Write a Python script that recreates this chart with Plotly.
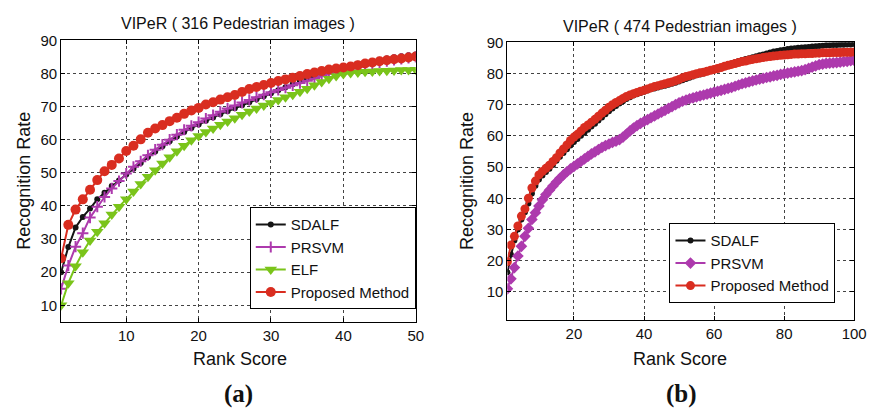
import plotly.graph_objects as go

# ---------- data: panel (a) ----------
rank_a = list(range(1, 51))
sdalf_a = [20, 27.6, 33.5, 36.7, 39.2, 42, 44, 46, 47.7, 49.5,
           51.2, 53, 54.8, 56.4, 58, 59.5, 61, 62.3, 63.5, 64.6,
           65.7, 66.7, 67.7, 68.6, 69.5, 70.4, 71.3, 72.2, 73.1, 74,
           74.9, 75.8, 76.7, 77.6, 78.5, 79.3, 80.1, 80.8, 81.4, 81.9,
           82.4, 82.9, 83.3, 83.7, 84.1, 84.5, 84.9, 85.2, 85.5, 85.7]
prsvm_a = [15, 22, 27.7, 31.8, 36.5, 39.8, 42.7, 45.3, 47.5, 49.8,
           51.8, 53.5, 55.3, 57, 58.5, 60, 61.5, 63, 64.2, 65.3,
           66.4, 67.4, 68.4, 69.4, 70.3, 71.2, 72, 72.8, 73.6, 74.3,
           75, 75.7, 76.4, 77.1, 77.8, 78.5, 79.2, 79.9, 80.5, 81,
           81.5, 82, 82.5, 82.9, 83.3, 83.7, 84.1, 84.4, 84.7, 85]
elf_a = [10, 16.7, 21.8, 26, 29.6, 32.2, 34.8, 37.4, 39.8, 42,
         44.4, 46.6, 48.8, 50.8, 52.8, 54.7, 56.5, 58.2, 59.8, 61.1,
         62.3, 63.4, 64.5, 65.5, 66.5, 67.5, 68.5, 69.4, 70.3, 71.1,
         72, 72.8, 73.6, 74.5, 75.4, 76.4, 77.4, 78.4, 79.2, 79.8,
         80.1, 80.3, 80.5, 80.6, 80.7, 80.8, 80.9, 81, 81, 81.1]
prop_a = [24.2, 34.3, 38.9, 42, 44.9, 47.8, 50.5, 52.4, 54.3, 56.6,
          58.2, 60.1, 62.1, 63.4, 64.4, 65.6, 66.6, 67.8, 68.8, 69.6,
          70.6, 71.3, 72.1, 72.8, 73.5, 74.4, 75.3, 75.9, 76.5, 77.1,
          77.7, 78.2, 78.7, 79.2, 79.8, 80.3, 80.7, 81.2, 81.5, 81.8,
          82.1, 82.5, 83.0, 83.3, 83.7, 84.0, 84.3, 84.5, 84.8, 85.1]

# ---------- data: panel (b) ----------
rank_b = list(range(1, 101))
sdalf_b = [16.3, 22, 26.5, 30, 33.2, 35.5, 38.3, 41.5, 44, 46,
           47.3, 48.4, 49.5, 50.7, 52, 53.3, 54.5, 55.7, 56.9, 58,
           59, 60, 61, 62, 63, 63.9, 64.9, 65.9, 66.9, 67.9,
           68.8, 69.6, 70.4, 71.1, 71.8, 72.4, 72.9, 73.3, 73.7, 74.1,
           74.5, 74.9, 75.2, 75.5, 75.8, 76.1, 76.4, 76.7, 77, 77.4,
           77.8, 78.2, 78.6, 79, 79.4, 79.7, 80, 80.4, 80.8, 81.2,
           81.6, 82, 82.4, 82.8, 83.2, 83.6, 84, 84.3, 84.6, 84.9,
           85.2, 85.5, 85.8, 86.1, 86.4, 86.7, 87, 87.2, 87.4, 87.6,
           87.8, 88, 88.1, 88.2, 88.3, 88.4, 88.5, 88.6, 88.7, 88.8,
           88.9, 89, 89, 89.1, 89.1, 89.2, 89.2, 89.3, 89.3, 89.4]
prsvm_b = [11, 14.2, 17.8, 21.5, 24.6, 27.8, 30.4, 33.2, 35.4, 37.5,
           39.5, 41.2, 42.6, 43.9, 45.2, 46.4, 47.5, 48.5, 49.4, 50.2,
           51, 51.8, 52.6, 53.4, 54.2, 54.9, 55.6, 56.3, 56.9, 57.4,
           57.9, 58.3, 58.8, 59.6, 60.6, 61.6, 62.5, 63.3, 64, 64.6,
           65.2, 65.8, 66.4, 67, 67.6, 68.2, 68.8, 69.4, 70, 70.6,
           71.1, 71.5, 71.9, 72.2, 72.5, 72.8, 73.1, 73.4, 73.7, 74,
           74.3, 74.6, 74.9, 75.2, 75.5, 75.9, 76.3, 76.7, 77, 77.3,
           77.6, 77.9, 78.2, 78.4, 78.7, 78.9, 79.2, 79.4, 79.7, 79.9,
           80.1, 80.3, 80.5, 80.7, 80.9, 81.2, 81.6, 82, 82.4, 82.8,
           83, 83.2, 83.3, 83.4, 83.5, 83.6, 83.8, 83.9, 84.1, 84.2]
prop_b = [19.7, 25, 27.8, 31.1, 34.3, 36.6, 40, 43.3, 45.5, 47.5,
          48.6, 49.6, 50.6, 51.8, 53, 54.5, 55.8, 57.1, 58.5, 59.6,
          60.5, 61.6, 62.7, 63.5, 64.4, 65.3, 66.3, 67.3, 68.2, 69.2,
          70, 70.7, 71.3, 72, 72.6, 73.1, 73.5, 73.9, 74.3, 74.6,
          75, 75.4, 75.8, 76.1, 76.4, 76.7, 77, 77.3, 77.7, 78.1,
          78.6, 79, 79.3, 79.6, 79.9, 80.2, 80.4, 80.7, 81, 81.3,
          81.6, 81.9, 82.3, 82.6, 82.9, 83.2, 83.5, 83.8, 84, 84.3,
          84.5, 84.7, 84.9, 85.1, 85.3, 85.4, 85.6, 85.7, 85.8, 85.9,
          86, 86.1, 86.2, 86.2, 86.3, 86.3, 86.4, 86.4, 86.5, 86.5,
          86.6, 86.6, 86.6, 86.7, 86.7, 86.7, 86.8, 86.8, 86.8, 86.9]

xticks_a = [10, 20, 30, 40, 50]
xticks_b = [20, 40, 60, 80, 100]
yticks = [10, 20, 30, 40, 50, 60, 70, 80, 90]

title_a = "VIPeR ( 316 Pedestrian images )"
title_b = "VIPeR ( 474 Pedestrian images )"

BLACK = "#141414"
PURPLE = "#ad3aad"
GREEN = "#7ac41a"
RED = "#d92d20"
FONT = "Liberation Sans, Arial, sans-serif"

fig = go.Figure()

# panel (a)
fig.add_trace(go.Scatter(x=rank_a, y=sdalf_a, name="SDALF", mode="lines+markers",
                         line=dict(color=BLACK, width=2),
                         marker=dict(symbol="circle", size=6, color=BLACK),
                         xaxis="x", yaxis="y", legend="legend"))
fig.add_trace(go.Scatter(x=rank_a, y=prsvm_a, name="PRSVM", mode="lines+markers",
                         line=dict(color=PURPLE, width=2),
                         marker=dict(symbol="cross-thin", size=8, color=PURPLE,
                                     line=dict(color=PURPLE, width=2)),
                         xaxis="x", yaxis="y", legend="legend"))
fig.add_trace(go.Scatter(x=rank_a, y=elf_a, name="ELF", mode="lines+markers",
                         line=dict(color=GREEN, width=2),
                         marker=dict(symbol="triangle-down", size=11, color=GREEN),
                         xaxis="x", yaxis="y", legend="legend"))
fig.add_trace(go.Scatter(x=rank_a, y=prop_a, name="Proposed Method", mode="lines+markers",
                         line=dict(color=RED, width=2),
                         marker=dict(symbol="circle", size=10, color=RED),
                         xaxis="x", yaxis="y", legend="legend"))

# panel (b)
fig.add_trace(go.Scatter(x=rank_b, y=sdalf_b, name="SDALF", mode="lines+markers",
                         line=dict(color=BLACK, width=2),
                         marker=dict(symbol="circle", size=6, color=BLACK),
                         xaxis="x2", yaxis="y2", legend="legend2"))
fig.add_trace(go.Scatter(x=rank_b, y=prsvm_b, name="PRSVM", mode="lines+markers",
                         line=dict(color=PURPLE, width=2),
                         marker=dict(symbol="diamond", size=9, color=PURPLE),
                         xaxis="x2", yaxis="y2", legend="legend2"))
fig.add_trace(go.Scatter(x=rank_b, y=prop_b, name="Proposed Method", mode="lines+markers",
                         line=dict(color=RED, width=2),
                         marker=dict(symbol="circle", size=9, color=RED),
                         xaxis="x2", yaxis="y2", legend="legend2"))

W, H = 880, 408
def px_x(p): return p / W
def px_y(p): return 1 - p / H

axis_common = dict(showline=True, linecolor="black", linewidth=1, mirror="ticks",
                   ticks="inside", ticklen=4, tickcolor="black",
                   showgrid=True, gridcolor="#444", griddash="dot", gridwidth=1,
                   zeroline=False, tickfont=dict(family=FONT, size=15, color="#111"))

fig.update_layout(
    width=W, height=H, margin=dict(l=0, r=0, t=0, b=0),
    paper_bgcolor="white", plot_bgcolor="white",
    font=dict(family=FONT, color="#111"),
    xaxis=dict(domain=[px_x(62), px_x(422)], range=[1, 50], tickvals=xticks_a, anchor="y", **axis_common),
    yaxis=dict(domain=[px_y(320), px_y(32)], range=[5, 90], tickvals=yticks, anchor="x", **axis_common),
    xaxis2=dict(domain=[px_x(515), px_x(867)], range=[1, 100], tickvals=xticks_b, anchor="y2", **axis_common),
    yaxis2=dict(domain=[px_y(318), px_y(34)], range=[1, 90], tickvals=yticks, anchor="x2", **axis_common),
    legend=dict(x=px_x(422), y=px_y(307), xanchor="right", yanchor="bottom",
                bgcolor="white", bordercolor="black", borderwidth=1,
                font=dict(family=FONT, size=15, color="#111"), tracegroupgap=0,
                itemsizing="trace"),
    legend2=dict(x=px_x(848), y=px_y(301), xanchor="right", yanchor="bottom",
                 bgcolor="white", bordercolor="black", borderwidth=1,
                 font=dict(family=FONT, size=15, color="#111"), tracegroupgap=0,
                 itemsizing="trace"),
    showlegend=True,
)

def ann(text, x, y, size, rot=0, family=FONT, bold=False):
    fig.add_annotation(text=("<b>%s</b>" % text) if bold else text,
                       x=px_x(x), y=px_y(y), xref="paper", yref="paper",
                       showarrow=False, textangle=rot,
                       font=dict(family=family, size=size, color="#111"),
                       xanchor="center", yanchor="middle")

ann(title_a, 242, 15, 16)
ann(title_b, 690, 18, 16)
ann("Recognition Rate", 24, 176, 18, rot=-90)
ann("Recognition Rate", 474, 176, 18, rot=-90)
ann("Rank Score", 244, 358, 18)
ann("Rank Score", 690, 358, 18)
ann("(a)", 242, 394, 25, family="Liberation Serif, Times New Roman, serif", bold=True)
ann("(b)", 692, 394, 25, family="Liberation Serif, Times New Roman, serif", bold=True)

fig.write_html("out.html")
